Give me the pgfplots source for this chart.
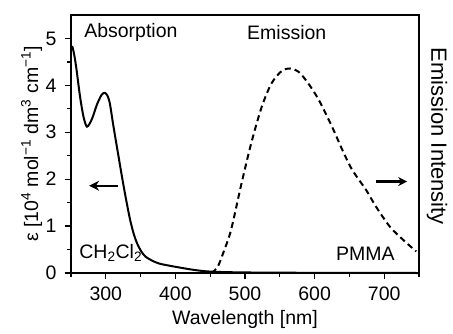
\documentclass[border=0pt]{standalone}
\usepackage{pgfplots}
\pgfplotsset{compat=1.18}
\usepackage{fontspec}
\setmainfont{Liberation Sans}
\usetikzlibrary{arrows.meta}
\newcommand{\bigf}{\fontsize{19.5}{23}\selectfont}
\begin{document}
\begin{tikzpicture}[every node/.style={font=\bigf}]
\useasboundingbox (-71pt,-60pt) rectangle (382pt,273pt);
\begin{axis}[
  scale only axis, width=348pt, height=258pt, at={(0pt,0pt)}, anchor=south west,
  xmin=250, xmax=750, ymin=0, ymax=5.5,
  axis line style={line width=1.3pt},
  xtick={300,400,...,700}, minor xtick={250,350,...,750},
  ytick={0,1,...,5}, minor ytick={0.5,1.5,...,4.5},
  tick align=outside, tick pos=left,
  major tick length=6pt, minor tick length=4pt,
  every tick/.style={black, line width=1.3pt},
  /pgf/number format/assume math mode=true,
  ticklabel style={font=\bigf},
  xticklabel style={yshift=-4pt},
  yticklabel style={xshift=-5pt},
  label style={font=\bigf},
  xlabel={Wavelength [nm]},
  xlabel style={yshift=-3pt},
  ylabel={ε [10\textsuperscript{4} mol\textsuperscript{−1} dm\textsuperscript{3} cm\textsuperscript{−1}]},
  ylabel style={yshift=-3.5pt},
  clip=false,
]
\draw[solid, black, -{Stealth[length=10pt,width=10pt]}, line width=2.2pt] (axis cs:317,1.86) -- (axis cs:276,1.86);
\draw[solid, black, -{Stealth[length=9pt,width=9pt]}, line width=2.2pt] (axis cs:688,1.95) -- (axis cs:733,1.95);
\addplot[black, line width=2pt, smooth, tension=0.5] coordinates {
(250,4.80) (252,4.82) (255,4.62) (258,4.33) (263,3.76) (268,3.33) (273,3.12)
(280,3.28) (287,3.58) (294,3.80) (299,3.84) (303,3.76) (306,3.60) (310,3.22)
(314,2.86) (318,2.51) (322,2.16) (326,1.82) (330,1.50) (335,1.13) (340,0.84)
(345,0.63) (351,0.46) (357,0.35) (367,0.26) (377,0.20) (390,0.16) (401,0.13)
(425,0.07) (450,0.03) (500,0.012) (600,0.004) (750,0.0)
};
\addplot[black, line width=2pt, smooth, dash pattern=on 6pt off 4pt] coordinates {
(452,0.0) (461,0.14) (470,0.48) (480,0.92) (495,1.91) (509,2.77) (524,3.54)
(538,4.04) (553,4.31) (565,4.36) (577,4.29) (591,4.04) (606,3.69) (625,3.12)
(640,2.62) (654,2.20) (674,1.77) (688,1.42) (708,0.99) (727,0.71) (746,0.46)
};
\node[anchor=west] at (axis cs:264,5.13) {Absorption};
\node at (axis cs:560,5.13) {Emission};
\node[anchor=west] at (axis cs:257,0.42) {CH\textsubscript{2}Cl\textsubscript{2}};
\node[anchor=east] at (axis cs:720,0.42) {PMMA};
\node[rotate=-90, font=\fontsize{22}{26}\selectfont] at ([xshift=18pt]rel axis cs:1,0.53) {Emission Intensity};
\end{axis}
\end{tikzpicture}
\end{document}
